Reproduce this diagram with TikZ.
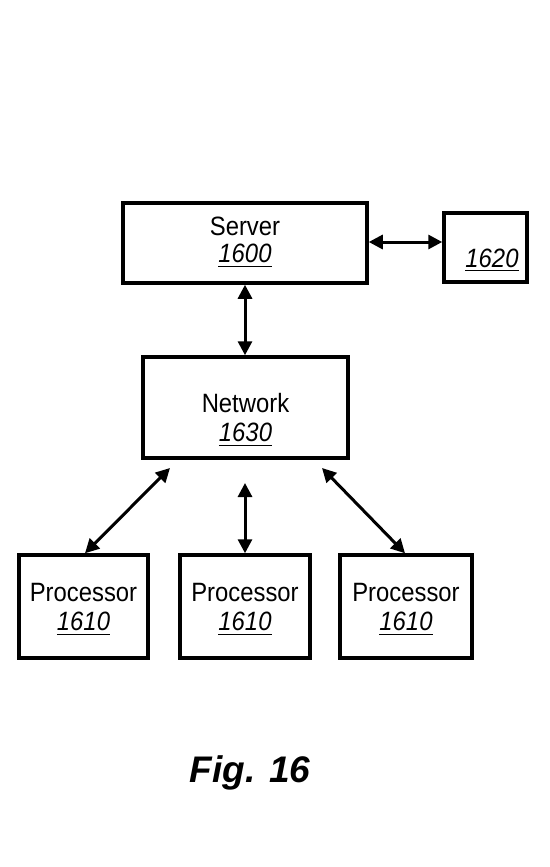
\documentclass[tikz,border=0pt]{standalone}
\usepackage{fontspec}
\setmainfont{Liberation Sans}
\newfontfamily\boxfont[FakeStretch=0.9]{Liberation Sans}
\usetikzlibrary{arrows.meta,calc}
\newcommand\ulnum[1]{\underline{\rule[-2pt]{0pt}{1pt}\textit{#1}}}
\begin{document}
\begin{tikzpicture}[x=1pt,y=-1pt,
  box/.style={draw,line width=3.5pt,inner sep=0pt},
  lbl/.style={align=center,inner sep=0pt,font=\boxfont\fontsize{26.5}{29}\selectfont},
  num/.style={font=\boxfont\fontsize{26.5}{29}\selectfont},
  link/.style={line width=3pt,{Triangle[length=14pt,width=14pt]}-{Triangle[length=14pt,width=14pt]}}]
\useasboundingbox (0,0) rectangle (549,867);
\node[box,minimum width=244pt,minimum height=80pt,
  label={[lbl,font=\boxfont\fontsize{26.5}{27}\selectfont,yshift=1pt]center:{Server\\\ulnum{1600}}}] (srv) at (245,243) {};
\node[box,minimum width=83pt,minimum height=69pt] (st) at (485.5,247.5) {};
\node[num] (stl) at (492,260) {\ulnum{1620}};
\node[box,minimum width=205pt,minimum height=101pt,
  label={[lbl,yshift=-12pt]center:{Network\\\ulnum{1630}}}] (net) at (245.5,407.5) {};
\node[box,minimum width=129pt,minimum height=103pt,
  label={[lbl,yshift=-2.5pt]center:{Processor\\\ulnum{1610}}}] (p1) at (83.5,606.5) {};
\node[box,minimum width=130pt,minimum height=103pt,
  label={[lbl,yshift=-2.5pt]center:{Processor\\\ulnum{1610}}}] (p2) at (245,606.5) {};
\node[box,minimum width=132pt,minimum height=103pt,
  label={[lbl,yshift=-2.5pt]center:{Processor\\\ulnum{1610}}}] (p3) at (406,606.5) {};
\node[font=\fontsize{37}{40}\selectfont\bfseries\itshape] (fig) at (250,773) {Fig. 16};
\coordinate (a1) at (170,468);
\coordinate (a2) at (245,483);
\coordinate (a3) at (322,468);
\draw[link] (srv.east |- 0,242) -- (st.west |- 0,242);
\draw[link] (srv.south -| 245,0) -- (net.north -| 245,0);
\draw[link] (a1) -- (p1.north -| 85,0);
\draw[link] (a2) -- (p2.north -| 245,0);
\draw[link] (a3) -- (p3.north -| 405,0);
\end{tikzpicture}
\end{document}
